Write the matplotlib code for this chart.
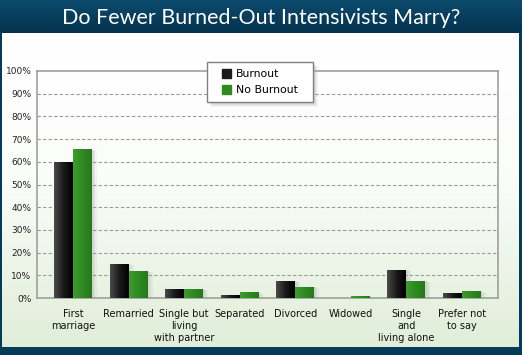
import numpy as np
import matplotlib
matplotlib.use("Agg")
import matplotlib.pyplot as plt
from matplotlib.patches import Rectangle
from matplotlib.colors import LinearSegmentedColormap

categories = ["First\nmarriage", "Remarried", "Single but\nliving\nwith partner", "Separated",
              "Divorced", "Widowed", "Single\nand\nliving alone", "Prefer not\nto say"]
burnout = [60, 15, 4, 1.3, 7.5, 0, 12.5, 2]
no_burnout = [65.5, 12, 4, 2.5, 5, 1, 7.5, 3]
yticks = [0, 10, 20, 30, 40, 50, 60, 70, 80, 90, 100]
ytick_labels = [f"{v}%" for v in yticks]
title = "Do Fewer Burned-Out Intensivists Marry?"
series_names = ["Burnout", "No Burnout"]

W, H = 522, 355
fig = plt.figure(figsize=(W / 100, H / 100), dpi=100)

# background frame
bg = fig.add_axes([0, 0, 1, 1], zorder=-10)
bg.axis("off")
bg.add_patch(Rectangle((0, 0), W, H, color="#053a58", zorder=0))
tb = np.linspace(0, 1, 50).reshape(-1, 1)
cm_t = LinearSegmentedColormap.from_list("t", ["#0c4a6c", "#04334f"])
bg.imshow(tb, cmap=cm_t, extent=(0, W, 33, 0), aspect="auto", zorder=1)
pg = np.linspace(0, 1, 200).reshape(-1, 1)
cm_p = LinearSegmentedColormap.from_list("p", [(0, "#ffffff"), (0.45, "#fbfdfa"), (1, "#e0eed8")])
bg.imshow(pg, cmap=cm_p, extent=(2, 519, 347, 33), aspect="auto", zorder=1)
bg.set_xlim(0, W); bg.set_ylim(H, 0)
fig.text(0.5, 1 - 18 / H, title, color="white", ha="center", va="center",
         fontsize=15.5, family="Lato")

# legend box (figure pixel coords) with soft shadow
lx0, lx1, ly0, ly1 = 207, 313, 62, 102
for k, a in ((5, 0.05), (4, 0.07), (3, 0.08), (2, 0.09)):
    bg.add_patch(Rectangle((lx0 + k, ly0 + k), lx1 - lx0, ly1 - ly0, color="#606060",
                           alpha=a, lw=0, zorder=2))

# main axes
x0, x1, ytop, ybot = 37, 498, 71, 298
ax = fig.add_axes([x0 / W, (H - ybot) / H, (x1 - x0) / W, (ybot - ytop) / H])
ax.patch.set_alpha(0)
n = len(categories)
x = np.arange(n)
w = 0.34

for yv in yticks[1:-1]:
    ax.axhline(yv, color="#9a9a9a", lw=0.8, ls=(0, (3, 2)), zorder=1)
for s in ax.spines.values():
    s.set_color("#a0a0a0"); s.set_linewidth(1.2)

cm_b = LinearSegmentedColormap.from_list("b", ["#4a4a4a", "#1a1a1a", "#000000"])
cm_g = LinearSegmentedColormap.from_list("g", ["#3f9c2c", "#2f8a22", "#27781b"])
grad = np.linspace(0, 1, 50).reshape(1, -1)

bars_b = ax.bar(x - w / 2, burnout, w, color="#222222", zorder=3)
bars_g = ax.bar(x + w / 2, no_burnout, w, color="#2f8a22", zorder=3)
for bars, cmap in ((bars_b, cm_b), (bars_g, cm_g)):
    for b in bars:
        bx, by, bw, bh = b.get_x(), b.get_y(), b.get_width(), b.get_height()
        if bh <= 0:
            continue
        for k, a in ((0.09, 0.07), (0.06, 0.09), (0.03, 0.10)):
            ax.add_patch(Rectangle((bx + k, by - k * 6), bw, bh, color="#777777",
                                   alpha=a, lw=0, zorder=2, clip_on=False))
        im = ax.imshow(grad, cmap=cmap, extent=(bx, bx + bw, by, by + bh),
                       aspect="auto", zorder=4)
        im.set_clip_path(b)
ax.set_xlim(-0.65, n - 1 + 0.65)
ax.set_ylim(0, 100)

ax.set_yticks(yticks)
ax.set_yticklabels(ytick_labels, fontsize=6.5, color="#222222")
ax.set_xticks(x)
ax.set_xticklabels(categories, fontsize=7, color="#111111", linespacing=1.25)
ax.tick_params(length=0, pad=4)
ax.tick_params(axis="x", pad=8)

# legend frame on top of axes
frame = Rectangle((lx0 / W, 1 - ly1 / H), (lx1 - lx0) / W, (ly1 - ly0) / H,
                  transform=fig.transFigure, facecolor="white", edgecolor="#808080",
                  lw=1.0, zorder=9)
fig.add_artist(frame)
leg = fig.legend([Rectangle((0, 0), 1, 1, color="#1a1a1a"), Rectangle((0, 0), 1, 1, color="#2f8a22")],
                 series_names, loc="upper left",
                 bbox_to_anchor=((lx0 + 13) / W, 1 - (ly0 + 5) / H),
                 fontsize=7.8, frameon=False, handlelength=0.8,
                 handleheight=0.8, handletextpad=0.45, borderpad=0.2, labelspacing=0.55,
                 borderaxespad=0)
leg.set_zorder(10)

fig.savefig("out.png", dpi=100)
